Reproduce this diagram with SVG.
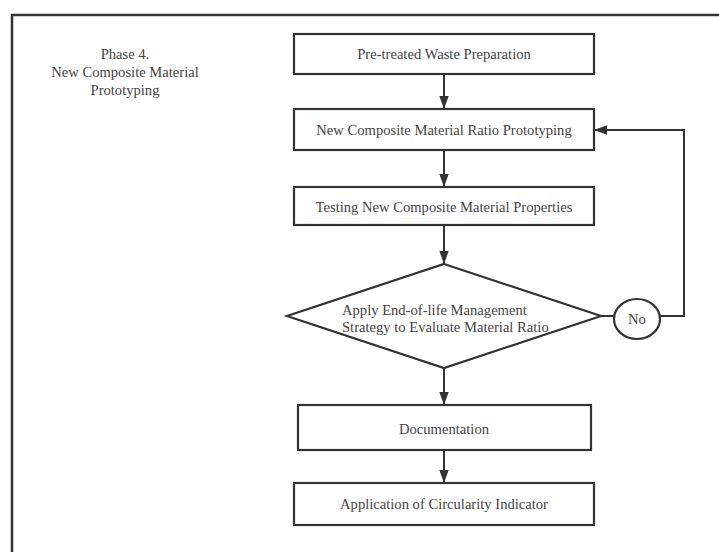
<svg xmlns="http://www.w3.org/2000/svg" width="719" height="552" viewBox="0 0 719 552">
<defs>
<style>
.box{fill:#fff;stroke:#333;stroke-width:2.2}
.ln{fill:none;stroke:#333;stroke-width:2}
.t{font-family:"Liberation Serif","Times New Roman",serif;font-size:14.6px;fill:#444}
.c{text-anchor:middle}
</style>
<marker id="ah" markerWidth="13" markerHeight="18" refX="18" refY="6.5" viewBox="0 0 18 13" markerUnits="userSpaceOnUse" orient="auto">
<path d="M0,0 L18,6.5 L0,13 Z" fill="#333"/>
</marker>
</defs>
<rect width="719" height="552" fill="#fff"/>
<rect x="12" y="15" width="720" height="560" fill="none" stroke="#333" stroke-width="2.5"/>
<g id="phase-label">
<text class="t c" x="125" y="59">Phase 4.</text>
<text class="t c" x="125" y="77">New Composite Material</text>
<text class="t c" x="125" y="95">Prototyping</text>
</g>
<g id="connectors">
<line class="ln" x1="444" y1="74" x2="444" y2="109" marker-end="url(#ah)"/>
<line class="ln" x1="444" y1="150" x2="444" y2="187" marker-end="url(#ah)"/>
<line class="ln" x1="444" y1="225" x2="444" y2="264" marker-end="url(#ah)"/>
<line class="ln" x1="444" y1="368" x2="444" y2="405" marker-end="url(#ah)"/>
<line class="ln" x1="444" y1="450" x2="444" y2="483" marker-end="url(#ah)"/>
<line class="ln" x1="601" y1="316" x2="614" y2="316"/>
<polyline class="ln" points="660,316 684,316 684,130 594,130" marker-end="url(#ah)"/>
</g>
<g id="n1"><rect class="box" x="294" y="34" width="300" height="40"/><text class="t c" x="444" y="59">Pre-treated Waste Preparation</text></g>
<g id="n2"><rect class="box" x="294" y="109" width="300" height="41"/><text class="t c" x="444" y="135">New Composite Material Ratio Prototyping</text></g>
<g id="n3"><rect class="box" x="294" y="187" width="300" height="38"/><text class="t c" x="444" y="212">Testing New Composite Material Properties</text></g>
<g id="n4"><polygon class="box" points="444,264 601,316 444,368 287,316"/><text class="t" x="342" y="315">Apply End-of-life Management</text><text class="t" x="342" y="332">Strategy to Evaluate Material Ratio</text></g>
<g id="no"><ellipse class="box" cx="637" cy="319" rx="23" ry="20"/><text class="t c" x="637" y="324">No</text></g>
<g id="n5"><rect class="box" x="298" y="405" width="293" height="45"/><text class="t c" x="444" y="434">Documentation</text></g>
<g id="n6"><rect class="box" x="294" y="483" width="300" height="42"/><text class="t c" x="444" y="509">Application of Circularity Indicator</text></g>
</svg>
